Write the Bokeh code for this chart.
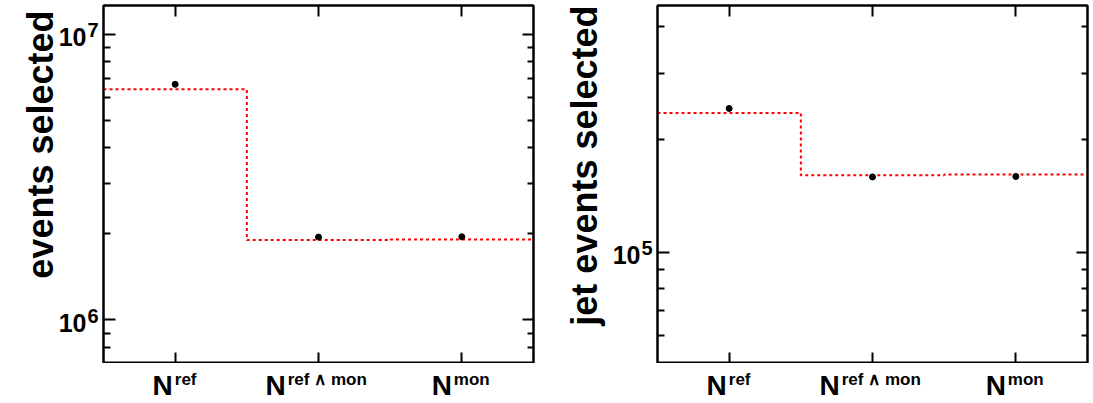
from bokeh.plotting import figure
from bokeh.models import (FixedTicker, LinearAxis, LogAxis, Range1d, LogScale,
                          CustomJSTickFormatter, ColumnDataSource)
from bokeh.core.properties import value
from bokeh.layouts import row, column
from bokeh.embed import file_html
from bokeh.resources import INLINE
import math

# ---------------- data ----------------
categories = ["ref", "ref \u2227 mon", "mon"]
x_centers = [0.5, 1.5, 2.5]
bin_edges = [0, 1, 2, 3]

left_points = [6.68e6, 1.95e6, 1.955e6]
left_hist = [6.42e6, 1.904e6, 1.914e6]
left_title = "events selected"
left_yrange = (7.04e5, 1.261e7)
left_major = [1e6, 1e7]
left_minor = [8e5, 9e5, 2e6, 3e6, 4e6, 5e6, 6e6, 7e6, 8e6, 9e6]

right_points = [2.417e5, 1.588e5, 1.592e5]
right_hist = [2.352e5, 1.605e5, 1.612e5]
right_title = "jet events selected"
right_yrange = (5.05e4, 4.549e5)
right_major = [1e5]
right_minor = [6e4, 7e4, 8e4, 9e4, 2e5, 3e5, 4e5]

# ---------------- style / layout ----------------
FONT = "Liberation Sans"
FRAME_W, FRAME_H = 430, 358
TOP, BOT = 5, 0          # main figure borders
STRIP_H = 40             # bottom label strip height
xlab_N_off = [-22.6, -53.0, -30.0]
xlab_sup_off = [-0.4, -30.8, -8.0]


def style_axis(ax, tick_in, minor_in):
    ax.formatter = CustomJSTickFormatter(code="return '';")
    ax.major_label_text_font_size = "1px"
    ax.major_label_standoff = 0
    ax.major_tick_in = tick_in
    ax.major_tick_out = 0
    ax.minor_tick_in = minor_in
    ax.minor_tick_out = 0
    ax.axis_line_width = 2
    ax.axis_line_color = "black"
    ax.major_tick_line_width = 2
    ax.minor_tick_line_width = 2


def bare(fig):
    fig.xgrid.visible = False
    fig.ygrid.visible = False
    fig.outline_line_color = None
    fig.background_fill_color = "white"
    fig.border_fill_color = "white"
    return fig


def panel(points, hist, title, yrange, major, minor, strip_w, right_border,
          tick_lab_x, title_x, title_drop):
    yr = Range1d(*yrange)
    xr = Range1d(0, 3)
    # ---- main plotting frame ----
    p = figure(frame_width=FRAME_W, frame_height=FRAME_H, y_axis_type="log",
               x_range=xr, y_range=yr, output_backend="svg", toolbar_location=None,
               min_border_left=2, min_border_right=right_border,
               min_border_top=TOP, min_border_bottom=BOT)
    bare(p)
    p.outline_line_color = "black"
    p.outline_line_width = 2
    p.xaxis.ticker = FixedTicker(ticks=x_centers)
    p.yaxis.ticker = FixedTicker(ticks=major, minor_ticks=minor)
    for ax in p.xaxis:
        style_axis(ax, 11, 0)
    for ax in p.yaxis:
        style_axis(ax, 12, 7)
    top = LinearAxis(ticker=FixedTicker(ticks=x_centers))
    style_axis(top, 11, 0)
    p.add_layout(top, "above")
    right = LogAxis(ticker=FixedTicker(ticks=major, minor_ticks=minor))
    style_axis(right, 11, 6)
    p.add_layout(right, "right")

    p.step(x=bin_edges, y=hist + [hist[-1]], mode="after",
           line_color="#ff0000", line_width=2, line_dash="3 3")
    p.scatter(x=x_centers, y=points, size=6, color="black")

    # ---- left strip: y tick labels and title (shares y range) ----
    ls = figure(width=strip_w, height=TOP + FRAME_H + BOT,
                x_range=Range1d(0, strip_w), y_range=yr,
                x_axis_type=None, y_axis_type=None,
                output_backend="svg", toolbar_location=None,
                min_border_left=0, min_border_right=0,
                min_border_top=TOP, min_border_bottom=BOT)
    ls.y_scale = LogScale()
    bare(ls)
    exps = [str(int(round(math.log10(v)))) for v in major]
    src = ColumnDataSource(dict(y=major, base=["10"] * len(major), exp=exps,
                                x=[tick_lab_x] * len(major)))
    ls.text(x="x", y="y", text="base", source=src, text_font=value(FONT),
            text_font_style="bold", text_font_size="25px", text_align="right",
            text_baseline="middle", y_offset=3, text_color="black")
    ls.text(x="x", y="y", text="exp", source=src, text_font=value(FONT),
            text_font_style="bold", text_font_size="20px", text_align="left",
            text_baseline="top", x_offset=1, y_offset=-11, text_color="black")
    ls.text(x=[title_x], y=[yrange[1]], text=[title], angle=math.pi / 2,
            text_font=value(FONT), text_font_style="bold", text_font_size="36px",
            text_align="right", text_baseline="alphabetic", y_offset=title_drop,
            text_color="black")

    # ---- bottom strip: category labels (shares x range) ----
    bs = figure(width=strip_w + 2 + FRAME_W + right_border, height=STRIP_H,
                x_range=xr, y_range=Range1d(STRIP_H, 0),
                x_axis_type=None, y_axis_type=None,
                output_backend="svg", toolbar_location=None,
                min_border_left=strip_w + 2, min_border_right=right_border,
                min_border_top=0, min_border_bottom=0)
    bare(bs)
    n_src = ColumnDataSource(dict(x=x_centers, N=["N"] * 3, sup=categories,
                                  noff=xlab_N_off, soff=xlab_sup_off,
                                  yN=[22] * 3, yS=[16] * 3))
    bs.text(x="x", y="yN", text="N", x_offset="noff", source=n_src,
            text_font=value(FONT), text_font_style="bold", text_font_size="28px",
            text_align="left", text_baseline="middle", text_color="black")
    bs.text(x="x", y="yS", text="sup", x_offset="soff", source=n_src,
            text_font=value(FONT), text_font_style="bold", text_font_size="17px",
            text_align="left", text_baseline="alphabetic", text_color="black")

    return column(row(ls, p), bs)


c1 = panel(left_points, left_hist, left_title, left_yrange, left_major, left_minor,
           101, 13, 86, 40, 5)
c2 = panel(right_points, right_hist, right_title, right_yrange, right_major,
           right_minor, 109, 6, 94, 38, 0)

layout = row(c1, c2)
open("out.html", "w").write(file_html(layout, INLINE))
